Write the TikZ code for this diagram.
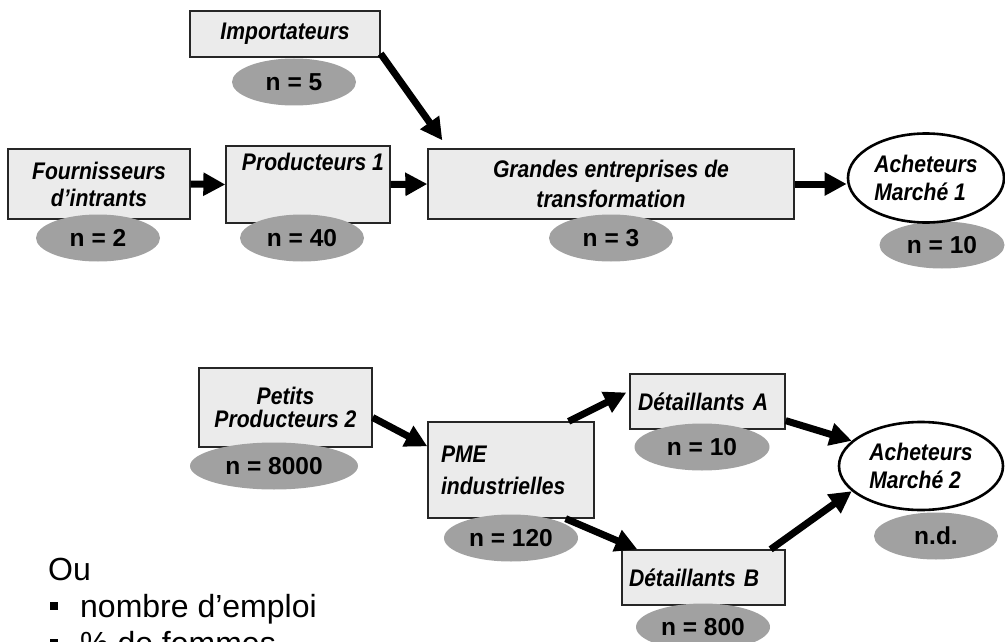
\documentclass[tikz,border=0pt]{standalone}
\usepackage{fontspec}
\setmainfont{Liberation Sans}
\newfontfamily\narrowfont{Liberation Sans}[FakeStretch=0.88]
\usetikzlibrary{shapes.geometric, arrows.meta, calc}

\tikzset{
  box/.style={draw=black!85, line width=1.3pt, fill=black!8, inner sep=0pt,
    font=\fontsize{24}{26}\narrowfont\bfseries\itshape, align=center},
  market/.style={ellipse, draw=black, line width=2.6pt, fill=white, inner sep=0pt,
    font=\fontsize{24}{28}\narrowfont\bfseries\itshape, align=left},
  count/.style={ellipse, fill=black!37, inner sep=0pt, minimum height=47pt,
    font=\fontsize{24.5}{28}\selectfont\bfseries},
  flow/.style={line width=7pt, -{Triangle[length=22pt, width=22pt]}},
  listtxt/.style={inner sep=0pt, font=\fontsize{32}{37}\selectfont}
}

\begin{document}
\begin{tikzpicture}[x=1pt, y=-1pt]
\useasboundingbox (0,0) rectangle (1005,642);

% Filiere 1
\node[box, minimum width=190pt, minimum height=46pt] (imp) at (285,34) {Importateurs};
\node[box, minimum width=182pt, minimum height=70pt,
  font=\fontsize{24}{27}\narrowfont\bfseries\itshape] (four) at (99,184) {Fournisseurs\\d’intrants};
\node[box, minimum width=164pt, minimum height=77pt,
  label={[anchor=north, inner sep=0pt, xshift=5pt, yshift=-8pt,
    font=\fontsize{24}{26}\narrowfont\bfseries\itshape]north:Producteurs 1}] (prod1) at (308,184.5) {};
\node[box, minimum width=366pt, minimum height=70pt,
  font=\fontsize{24}{30}\narrowfont\bfseries\itshape] (gr) at (611,184) {Grandes entreprises de\\transformation};

% Filiere 2
\node[box, minimum width=173pt, minimum height=79pt,
  font=\fontsize{24}{23}\narrowfont\bfseries\itshape] (pp2) at (285.5,407.5) {Petits\\Producteurs 2};
\node[box, minimum width=166pt, minimum height=96pt, text width=140pt, align=left,
  font=\fontsize{24}{32}\narrowfont\bfseries\itshape] (pme) at (511,470) {PME\\industrielles};
\node[box, minimum width=155pt, minimum height=55pt, text width=139pt, align=left] (detA) at (707.5,401.5) {Détaillants A};
\node[box, minimum width=163pt, minimum height=55pt, text width=149pt, align=left] (detB) at (703.5,577.5) {Détaillants B};

% effectifs
\node[count, minimum width=124pt] (nimp) at (294,82) {n = 5};
\node[count, minimum width=124pt] (nfour) at (98,238) {n = 2};
\node[count, minimum width=124pt] (nprod1) at (302,238) {n = 40};
\node[count, minimum width=124pt] (ngr) at (611,238) {n = 3};
\node[count, minimum width=125pt] (nach1) at (942,245) {n = 10};
\node[count, minimum width=168pt] (npp2) at (274,466) {n = 8000};
\node[count, minimum width=134pt] (npme) at (511,538) {n = 120};
\node[count, minimum width=135pt] (ndetA) at (702,447) {n = 10};
\node[count, minimum width=134pt] (ndetB) at (703,627) {n = 800};
\node[count, minimum width=124pt] (nach2) at (936,536) {n.d.};

% marches
\node[market, minimum width=156pt, minimum height=89pt] (ach1) at (926,178) {Acheteurs\\Marché 1};
\node[market, minimum width=164pt, minimum height=88pt] (ach2) at (921,466) {Acheteurs\\Marché 2};

% flux
\draw[flow] (four.east) -- (prod1.west);
\draw[flow] (prod1.east) -- (gr.west);
\draw[flow] ($(imp.south east)+(0,-4)$) -- ($(gr.north west)+(15,-8)$);
\draw[flow] (gr.east) -- (gr.east -| ach1.west);
\draw[flow] ($(pp2.east)+(0,10)$) -- ($(pme.north west)+(0,25)$);
\draw[flow] ($(pme.north east)+(-26,0)$) -- ($(detA.west)+(-3,-9)$);
\draw[flow] ($(pme.south east)+(-29,0)$) -- ($(detB.north west)+(16,0)$);
\draw[flow] ($(detA.south east)+(0,-9)$) -- (ach2.160);
\draw[flow] ($(detB.north east)+(-15,0)$) -- (ach2.200);

% legende
\node[listtxt, anchor=base west] (ou) at (48,580) {Ou};
\foreach \entry [count=\i] in {nombre d’emploi, \% de femmes}
  \node[listtxt, anchor=base west] (entry\i) at (50,580+37*\i) {\rule[7pt]{8pt}{8pt}\hspace{22pt}\entry};

\end{tikzpicture}
\end{document}
